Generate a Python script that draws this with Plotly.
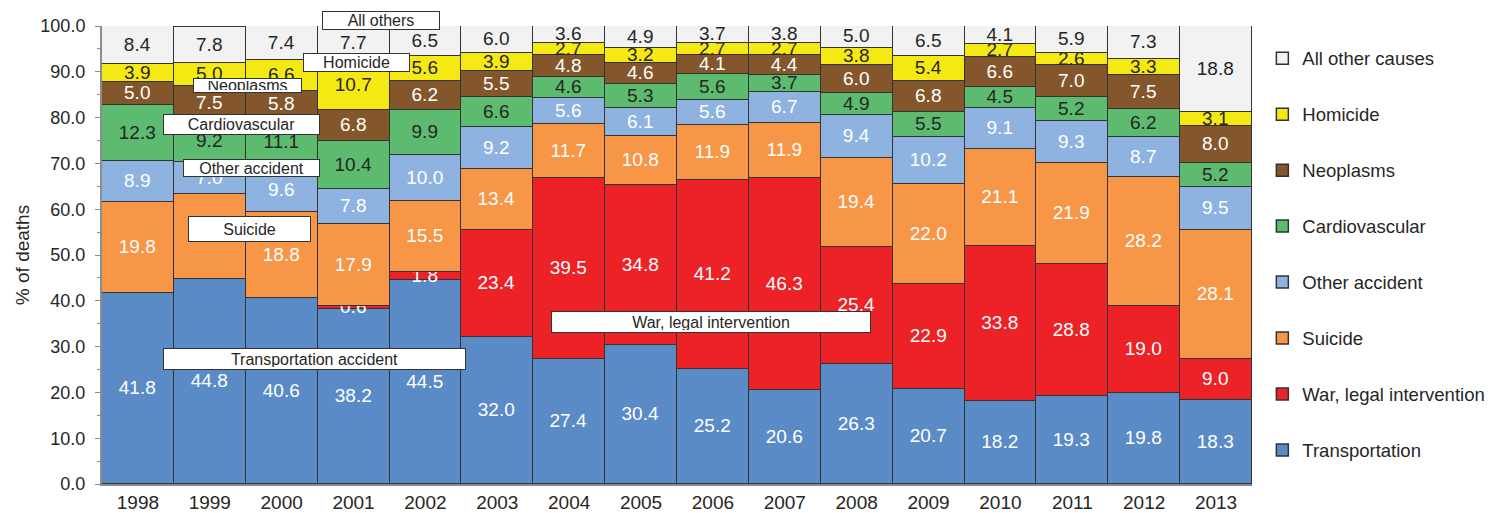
import plotly.graph_objects as go

years = [str(y) for y in range(1998, 2014)]

transportation = [41.8, 44.8, 40.6, 38.2, 44.5, 32.0, 27.4, 30.4, 25.2, 20.6, 26.3, 20.7, 18.2, 19.3, 19.8, 18.3]
war = [0, 0, 0, 0.6, 1.8, 23.4, 39.5, 34.8, 41.2, 46.3, 25.4, 22.9, 33.8, 28.8, 19.0, 9.0]
suicide = [19.8, 18.5, 18.8, 17.9, 15.5, 13.4, 11.7, 10.8, 11.9, 11.9, 19.4, 22.0, 21.1, 21.9, 28.2, 28.1]
other_accident = [8.9, 7.0, 9.6, 7.8, 10.0, 9.2, 5.6, 6.1, 5.6, 6.7, 9.4, 10.2, 9.1, 9.3, 8.7, 9.5]
cardiovascular = [12.3, 9.2, 11.1, 10.4, 9.9, 6.6, 4.6, 5.3, 5.6, 3.7, 4.9, 5.5, 4.5, 5.2, 6.2, 5.2]
neoplasms = [5.0, 7.5, 5.8, 6.8, 6.2, 5.5, 4.8, 4.6, 4.1, 4.4, 6.0, 6.8, 6.6, 7.0, 7.5, 8.0]
homicide = [3.9, 5.0, 6.6, 10.7, 5.6, 3.9, 2.7, 3.2, 2.7, 2.7, 3.8, 5.4, 2.7, 2.6, 3.3, 3.1]
all_other = [8.4, 7.8, 7.4, 7.7, 6.5, 6.0, 3.6, 4.9, 3.7, 3.8, 5.0, 6.5, 4.1, 5.9, 7.3, 18.8]

FONT = "Liberation Sans, Arial, sans-serif"
DARK = "#262626"
OUTLINE = "#333333"
AXIS = "#8C8C8C"

# name, values, fill colour, label colour
series = [
    ("Transportation", transportation, "#5B8BC7", "white"),
    ("War, legal intervention", war, "#EC2227", "white"),
    ("Suicide", suicide, "#F79646", "white"),
    ("Other accident", other_accident, "#8EB3E0", "white"),
    ("Cardiovascular", cardiovascular, "#5DBB6F", DARK),
    ("Neoplasms", neoplasms, "#83572B", "white"),
    ("Homicide", homicide, "#F5E914", DARK),
    ("All other causes", all_other, "#F2F2F2", DARK),
]

fig = go.Figure()
for i, (name, vals, color, tcolor) in enumerate(series):
    fig.add_trace(go.Bar(
        x=years, y=vals, name=name, legendgroup=str(i), legendrank=len(series) - i,
        marker=dict(color=color, line=dict(color=OUTLINE, width=1.5)),
        text=["" if v == 0 else f"{v:.1f}" for v in vals],
        textposition="inside", insidetextanchor="middle",
        textfont=dict(color=tcolor, size=19, family=FONT),
        hoverinfo="name+y",
    ))

# category callouts: text, x (bar index), y (% -> paper), box width, box height
callouts = [
    ("All others", 3.38, 101.1, 112, 13),
    ("Homicide", 3.04, 92.1, 101, 13),
    ("Neoplasms", 1.52, 86.9, 103, 9),
    ("Cardiovascular", 1.44, 78.4, 151, 15),
    ("Other accident", 1.58, 68.9, 131, 12),
    ("Suicide", 1.55, 55.7, 117, 20),
    ("Transportation accident", 2.46, 27.3, 297, 16),
    ("War, legal intervention", 7.97, 35.4, 314, 16),
]
for txt, xi, yv, w, h in callouts:
    fig.add_annotation(
        x=xi, y=yv / 100, xref="x", yref="paper", text=txt, showarrow=False,
        xanchor="center", yanchor="middle",
        width=w, height=h, bgcolor="white", bordercolor=OUTLINE, borderwidth=1,
        borderpad=2, font=dict(size=16, color=DARK, family=FONT),
    )

# the page body adds an 8px margin, so the figure is drawn 8px smaller
fig.update_layout(
    width=1485, height=505,
    barmode="stack", bargap=0,
    paper_bgcolor="white", plot_bgcolor="white",
    font=dict(family=FONT, color=DARK, size=16),
    margin=dict(l=94, r=241, t=18, b=29, autoexpand=False),
    uniformtext=dict(mode="show", minsize=19),
    showlegend=True,
    legend=dict(
        traceorder="grouped", tracegroupgap=28.9,
        x=1.009, xanchor="left", y=0.97, yanchor="top",
        font=dict(size=18.5, color=DARK, family=FONT),
        itemwidth=30,
    ),
)
fig.update_xaxes(
    showline=True, linecolor=AXIS, linewidth=2, ticks="",
    tickfont=dict(size=19), showgrid=False,
)
fig.update_yaxes(
    range=[0, 100], dtick=10, tickformat=".1f", showgrid=False,
    showline=True, linecolor=AXIS, linewidth=2,
    ticks="outside", ticklen=5, tickcolor=AXIS, ticklabelstandoff=6,
    minor=dict(dtick=5, ticks="outside", ticklen=3, tickcolor=AXIS),
    tickfont=dict(size=18),
    title=dict(text="% of deaths", font=dict(size=19), standoff=6),
)

fig.write_html("out.html")
